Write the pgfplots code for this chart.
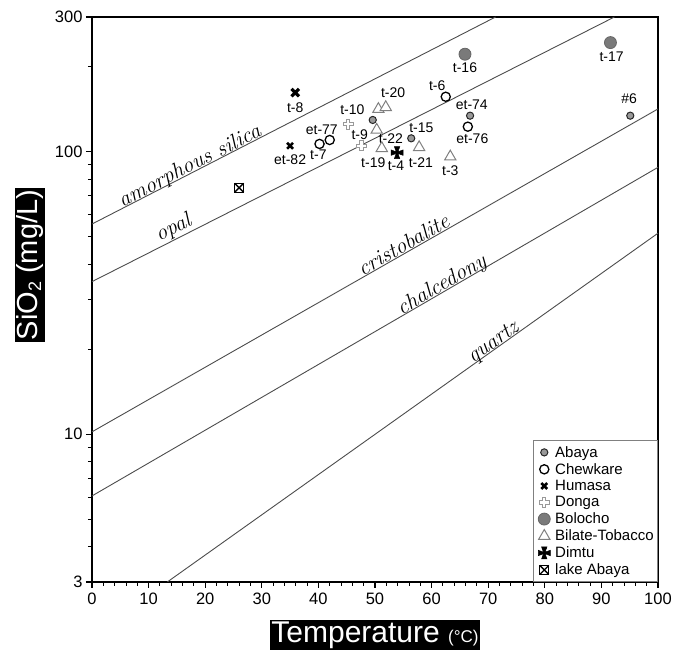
\documentclass[border=0pt]{standalone}
\usepackage{pgfplots}
\pgfplotsset{compat=1.18}
\usepackage{fontspec}
\newfontfamily\hel{Liberation Sans}
\newcommand\lab{\hel\fontsize{14bp}{14bp}\selectfont}
\newcommand\lin{\itshape\fontsize{22bp}{22bp}\selectfont}

\pgfdeclareplotmark{gplus}{%
  \pgfpathmoveto{\pgfqpoint{-0.32\pgfplotmarksize}{\pgfplotmarksize}}%
  \pgfpathlineto{\pgfqpoint{0.32\pgfplotmarksize}{\pgfplotmarksize}}%
  \pgfpathlineto{\pgfqpoint{0.32\pgfplotmarksize}{0.32\pgfplotmarksize}}%
  \pgfpathlineto{\pgfqpoint{\pgfplotmarksize}{0.32\pgfplotmarksize}}%
  \pgfpathlineto{\pgfqpoint{\pgfplotmarksize}{-0.32\pgfplotmarksize}}%
  \pgfpathlineto{\pgfqpoint{0.32\pgfplotmarksize}{-0.32\pgfplotmarksize}}%
  \pgfpathlineto{\pgfqpoint{0.32\pgfplotmarksize}{-\pgfplotmarksize}}%
  \pgfpathlineto{\pgfqpoint{-0.32\pgfplotmarksize}{-\pgfplotmarksize}}%
  \pgfpathlineto{\pgfqpoint{-0.32\pgfplotmarksize}{-0.32\pgfplotmarksize}}%
  \pgfpathlineto{\pgfqpoint{-\pgfplotmarksize}{-0.32\pgfplotmarksize}}%
  \pgfpathlineto{\pgfqpoint{-\pgfplotmarksize}{0.32\pgfplotmarksize}}%
  \pgfpathlineto{\pgfqpoint{-0.32\pgfplotmarksize}{0.32\pgfplotmarksize}}%
  \pgfpathclose
  \pgfusepathqfillstroke}

\pgfdeclareplotmark{pattee}{%
  \pgfpathmoveto{\pgfqpoint{-0.45\pgfplotmarksize}{\pgfplotmarksize}}%
  \pgfpathlineto{\pgfqpoint{0.45\pgfplotmarksize}{\pgfplotmarksize}}%
  \pgfpathlineto{\pgfqpoint{0.13\pgfplotmarksize}{0.13\pgfplotmarksize}}%
  \pgfpathlineto{\pgfqpoint{\pgfplotmarksize}{0.45\pgfplotmarksize}}%
  \pgfpathlineto{\pgfqpoint{\pgfplotmarksize}{-0.45\pgfplotmarksize}}%
  \pgfpathlineto{\pgfqpoint{0.13\pgfplotmarksize}{-0.13\pgfplotmarksize}}%
  \pgfpathlineto{\pgfqpoint{0.45\pgfplotmarksize}{-\pgfplotmarksize}}%
  \pgfpathlineto{\pgfqpoint{-0.45\pgfplotmarksize}{-\pgfplotmarksize}}%
  \pgfpathlineto{\pgfqpoint{-0.13\pgfplotmarksize}{-0.13\pgfplotmarksize}}%
  \pgfpathlineto{\pgfqpoint{-\pgfplotmarksize}{-0.45\pgfplotmarksize}}%
  \pgfpathlineto{\pgfqpoint{-\pgfplotmarksize}{0.45\pgfplotmarksize}}%
  \pgfpathlineto{\pgfqpoint{-0.13\pgfplotmarksize}{0.13\pgfplotmarksize}}%
  \pgfpathclose
  \pgfusepathqfillstroke}

\pgfdeclareplotmark{boxx}{%
  \pgfpathrectanglecorners{\pgfqpoint{-\pgfplotmarksize}{-\pgfplotmarksize}}{\pgfqpoint{\pgfplotmarksize}{\pgfplotmarksize}}%
  \pgfusepathqfillstroke
  \pgfpathmoveto{\pgfqpoint{-\pgfplotmarksize}{-\pgfplotmarksize}}%
  \pgfpathlineto{\pgfqpoint{\pgfplotmarksize}{\pgfplotmarksize}}%
  \pgfpathmoveto{\pgfqpoint{-\pgfplotmarksize}{\pgfplotmarksize}}%
  \pgfpathlineto{\pgfqpoint{\pgfplotmarksize}{-\pgfplotmarksize}}%
  \pgfusepathqstroke}

\begin{document}
\begin{tikzpicture}
\begin{axis}[
  name=ax,
  scale only axis, width=566bp, height=565bp,
  xmin=0, xmax=100, ymode=log, ymin=3, ymax=300,
  xtick={0,10,...,100}, minor x tick num=4,
  ytick={3,10,100,300}, yticklabels={3,10,100,300},
  minor ytick={4,5,6,7,8,9,20,30,40,50,60,70,80,90,200},
  tick pos=left, tick align=outside,
  major tick length=6bp, minor tick length=4bp,
  major tick style={black, line width=1.1bp},
  minor tick style={black, line width=0.9bp},
  axis line style={black, line width=1.4bp},
  /pgf/number format/assume math mode=true,
  ticklabel style={font=\hel\fontsize{16.5bp}{16.5bp}\selectfont},
  xticklabel style={yshift=-1bp},
  xlabel={\hel\fontsize{30bp}{30bp}\selectfont Temperature {\fontsize{17bp}{17bp}\selectfont(°C)}},
  xlabel style={at={(axis description cs:0.5,-0.0938)}, anchor=center, fill=black, text=white, inner sep=1.5bp},
  ylabel={\hel\fontsize{29bp}{29bp}\selectfont SiO\raisebox{-0.12em}{\fontsize{18bp}{18bp}\selectfont 2} (mg/L)},
  ylabel style={at={(axis description cs:-0.1095,0.561)}, anchor=center, fill=black, text=white, inner sep=1.5bp},
  legend style={at={(1,0)}, anchor=south east, draw=gray, line width=0.8bp,
     font=\hel\fontsize{15bp}{16bp}\selectfont, row sep=0.6bp, inner xsep=2bp, inner ysep=3.5bp},
  legend cell align=left,
  legend image code/.code={\path (-0.12cm,0cm) (0.42cm,0cm); \draw[#1] plot coordinates {(0.15cm,0cm)};},
]
% solubility curves
\addplot[forget plot, black!70, line width=0.9bp] coordinates {(0,55.5) (71.3,300)}
  node[pos=0.25, sloped, anchor=base, yshift=1bp, text=black] {\lin amorphous silica};
\addplot[forget plot, black!70, line width=0.9bp] coordinates {(0,34.7) (92.3,300)}
  node[pos=0.165, sloped, anchor=base, yshift=5bp, text=black] {\lin opal};
\addplot[forget plot, black!70, line width=0.9bp] coordinates {(0,10.2) (100,141.8)}
  node[pos=0.557, sloped, anchor=base, yshift=1bp, text=black] {\lin cristobalite};
\addplot[forget plot, black!70, line width=0.9bp] coordinates {(0,6.05) (100,88.1)}
  node[pos=0.624, sloped, anchor=base, yshift=1bp, text=black] {\lin chalcedony};
\addplot[forget plot, black!70, line width=0.9bp] coordinates {(13.3,3) (100,51.5)}
  node[pos=0.672, sloped, anchor=base, yshift=1bp, text=black] {\lin quartz};

% data
\addplot[only marks, mark=*, mark size=3.6bp, line width=1bp, draw=black!85, fill=black!40]
  coordinates {(49.6,129.6) (56.4,111.6) (66.8,134.2) (95.1,134.2)};
\addlegendentry{Abaya}
\addplot[only marks, mark=*, mark size=4.6bp, line width=1.3bp, draw=black, fill=white]
  coordinates {(40.2,106.6) (42.0,110.1) (62.5,156.6) (66.4,122.7)};
\addlegendentry{Chewkare}
\addplot[only marks, mark=x, mark size=4.2bp, line width=2.6bp, draw=black]
  coordinates {(35.0,105)};
\addlegendentry{Humasa}
\addplot[only marks, mark=gplus, mark size=5bp, line width=1bp, draw=black!40, fill=white]
  coordinates {(45.3,125.4) (47.6,105)};
\addlegendentry{Donga}
\addplot[only marks, mark=*, mark size=6bp, line width=0.8bp, draw=black!60, fill=black!52]
  coordinates {(65.9,221.5) (91.6,243.5)};
\addlegendentry{Bolocho}
\addplot[only marks, mark=triangle*, mark size=6.5bp, line width=1bp, draw=black!50, fill=white]
  coordinates {(50.6,141.5) (51.9,143.7) (50.3,119.5) (51.2,102.9) (57.8,103.7) (63.3,96.1)};
\addlegendentry{Bilate-Tobacco}
\addplot[only marks, mark=pattee, mark size=6bp, line width=0.5bp, draw=black, fill=black]
  coordinates {(53.9,99.3)};
\addlegendentry{Dimtu}
\addplot[only marks, mark=boxx, mark size=4.5bp, line width=1.3bp, draw=black, fill=white]
  coordinates {(26.0,74.6)};
\addlegendentry{lake Abaya}
\addplot[forget plot, only marks, mark=x, mark size=5.3bp, line width=3.2bp, draw=black]
  coordinates {(35.9,162)};

% point labels
\node[font=\lab] at (35.9,142.9) {t-8};
\node[font=\lab] at (35.0,93.5) {et-82};
\node[font=\lab] at (40.0,97.4) {t-7};
\node[font=\lab] at (40.6,119.5) {et-77};
\node[font=\lab] at (46.0,140.6) {t-10};
\node[font=\lab] at (47.3,114.7) {t-9};
\node[font=\lab] at (53.2,161.9) {t-20};
\node[font=\lab] at (52.8,111.6) {t-22};
\node[font=\lab] at (49.7,91.5) {t-19};
\node[font=\lab] at (53.7,89.0) {t-4};
\node[font=\lab] at (58.2,122.1) {t-15};
\node[font=\lab] at (58.1,91.5) {t-21};
\node[font=\lab] at (63.3,85.7) {t-3};
\node[font=\lab] at (61.0,171.1) {t-6};
\node[font=\lab] at (65.9,199.0) {t-16};
\node[font=\lab] at (67.1,147.3) {et-74};
\node[font=\lab] at (67.2,111.6) {et-76};
\node[font=\lab] at (91.8,217.2) {t-17};
\node[font=\lab] at (94.9,154.6) {\#6};
\end{axis}
\path ([shift={(-92bp,-68bp)}]ax.south west) rectangle ([shift={(29bp,17bp)}]ax.north east);
\end{tikzpicture}
\end{document}
